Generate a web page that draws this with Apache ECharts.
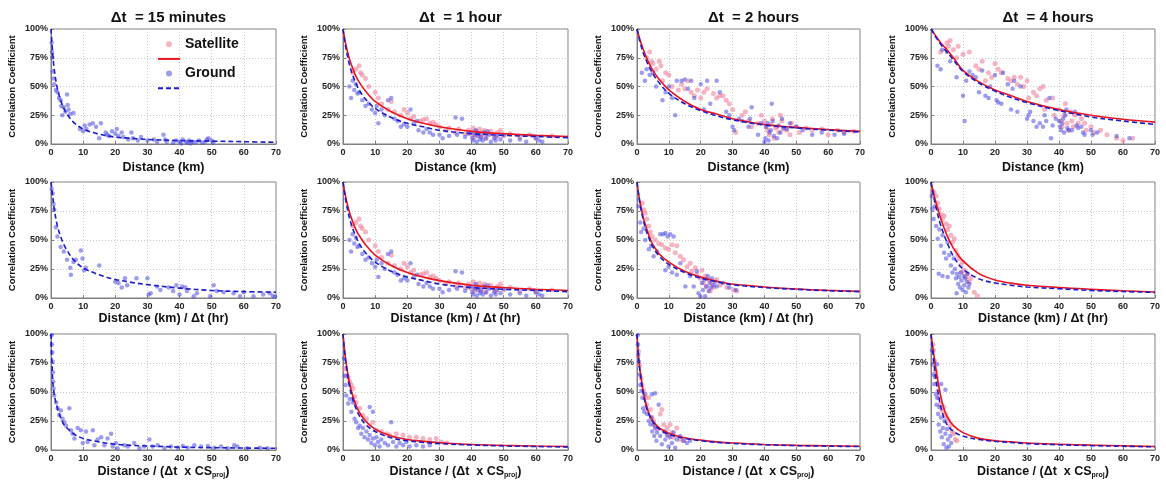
<!DOCTYPE html>
<html>
<head>
<meta charset="utf-8">
<script src="https://cdn.jsdelivr.net/npm/echarts@6/dist/echarts.min.js"></script>
<style>
  html, body { margin: 0; padding: 0; background: #fff; }
  #chart { width: 1166px; height: 484px; }
</style>
</head>
<body>
<div id="chart"></div>
<script>
// Column headings (time step) and x-axis titles (normalisation of distance)
const columnTitles = ['Δt  = 15 minutes', 'Δt  = 1 hour', 'Δt  = 2 hours', 'Δt  = 4 hours'];
const xTicks = [0, 10, 20, 30, 40, 50, 60, 70];
const yTicks = [0, 25, 50, 75, 100];

// x positions at which the fitted curves are tabulated
const fitX = [0, 0.5, 1, 2, 3, 4, 5, 7, 10, 15, 20, 25, 30, 40, 50, 60, 70];

// ---------- Row 1: correlation vs distance (km) ----------
const ground15Km = [[0.2,88],[0.3,80],[0.4,75],[0.5,63],[0.8,57],[1,52],[1.5,47],[2,45],[2.5,40],[3,38],[3.2,33],[3.5,25],[4,32],[4.5,28],[5,43],[5.2,34],[5.5,30],[6,26],[7,27],[9,13],[10,11],[10.5,16],[11,13],[12,17],[13,18],[14,15],[15,5],[15.5,18],[17,10],[17.5,8],[18,7],[19,11],[20,9],[20.5,13],[21,7],[22,10],[22.5,6],[24,4],[25,10],[25.5,5],[27,3],[28,6],[30,3],[32,4],[33,2],[35,8],[35.5,4],[36,2],[38,1],[39,3],[40,2],[40.5,0.5],[41,4],[42,2],[42.5,1],[43,3],[43.5,0.5],[44,2],[45,1.5],[46,3],[47,1],[48,2],[48.5,4],[49,5],[50,3],[50.5,1]];
const fitGround15Km = [100,80,65,48,38,31,26,19,13,8.5,6,5,4,3,2.5,2,1.5];

const sat1Km = [[3,62],[4,65],[5,68],[5.5,62],[6,60],[7,57],[8,50],[10,45],[11,40],[12,35],[14,30],[15,37],[16,28],[18,25],[19,30],[20,27],[21,22],[22,24],[24,20],[25,21],[26,22],[27,18],[28,19],[29,17],[30,15],[32,12],[33,14],[35,10],[36,13],[38,9],[39,12],[40,8],[40.5,14],[41,6],[41.5,11],[42,9],[42.5,13],[43,7],[43.5,10],[44,12],[44.5,5],[45,9],[46,11],[47,8],[47.5,6],[48,10],[49,12],[50,7],[52,9],[55,6],[58,8],[60,5],[65,7]];
const ground1Km = [[2,50],[2.5,40],[3,55],[3.5,47],[4,52],[4.5,44],[5,45],[6,38],[7,33],[8,35],[9,30],[10,27],[10.5,33],[11,18],[12,30],[13,25],[14,38],[15,40],[16,22],[17,20],[18,15],[19,17],[20,15],[21,30],[22,18],[23,20],[23.5,12],[25,10],[26,13],[27,10],[28,8],[30,8],[31,5],[33,7],[35,23],[35.5,8],[37,22],[38,6],[39,9],[40,10],[40.2,5],[40.5,3],[41,8],[41.3,12],[41.6,2],[42,7],[42.3,9],[42.6,4],[43,6],[43.5,3],[44,10],[44.5,5],[45,11],[45.5,8],[46,2],[47,5],[47.5,3],[48,7],[49,4],[50,8],[52,3],[55,4],[57,2],[60,5],[61,3],[62,2]];
const fitSat1Km = [100,92,85,74,66,59,54,46,37,28,22,18,15,11,9,7.5,6.5];
const fitGround1Km = [100,90,82,69,60,53,47,39,31,23,18,15,12,9,7.5,6.5,5.5];

const sat2Km = [[3,75],[4,80],[4.5,72],[5,70],[6,65],[7,72],[7.5,68],[8,55],[9,62],[10,60],[11,50],[13,47],[14,52],[15,48],[16,55],[17,45],[18,42],[19,47],[20,40],[21,45],[22,48],[24,44],[25,40],[26,42],[27,42],[28,38],[29,35],[30,30],[31,10],[33,25],[34,28],[35,20],[36,15],[38,18],[39,25],[40,20],[40.5,15],[41,12],[41.5,8],[42,17],[42.5,22],[43,5],[43.5,14],[44,15],[44.5,10],[45,25],[45.5,20],[46,13],[47,12],[48,8],[48.5,18],[50,15],[51,10],[53,14],[55,12],[58,13],[60,8],[63,12],[65,10],[68,11]];
const ground2Km = [[1.5,62],[2.5,55],[3,65],[4,60],[5,62],[6,50],[8,38],[9,45],[10,50],[11,40],[12,25],[12.5,55],[14,55],[15,56],[16,48],[17,55],[18,40],[20,52],[21,30],[22,55],[23,35],[25,55],[26,45],[28,28],[29,25],[30,15],[30.5,12],[32,22],[33,20],[35,15],[35.5,22],[36,32],[38,8],[39,18],[40,2],[40.3,5],[40.6,15],[41,18],[41.3,3],[41.6,10],[42,12],[42.3,35],[42.6,20],[43,7],[44,5],[44.5,16],[45,10],[45.5,22],[46,14],[47,13],[48,18],[50,15],[52,12],[55,8],[58,10],[62,8],[65,9]];
const fitSat2Km = [100,95,90,82,75,69,64,56,47,37,30,26,22,17,14.5,12.5,11];
const fitGround2Km = [100,94,88,79,72,66,61,53,44,35,29,24.5,21,16.5,14,12,10.5];

const sat4Km = [[3,80],[5,88],[5.5,85],[6,90],[7,82],[8,75],[8.5,85],[10,78],[12,80],[14,68],[15,65],[16,72],[17,55],[18,62],[19,58],[20,70],[21,65],[22,62],[24,57],[25,55],[26,58],[27,52],[28,58],[29,50],[30,55],[30.5,40],[32,45],[33,42],[34,48],[35,50],[35.5,30],[36,38],[38,40],[38.5,25],[40,30],[40.5,20],[41,15],[41.5,25],[42,35],[42.5,18],[43,12],[43.5,28],[44,20],[44.5,15],[45,25],[46,18],[47,22],[48,18],[48.5,12],[50,15],[51,10],[53,12],[55,8],[58,5],[60,3],[63,5]];
const ground4Km = [[2,68],[3,65],[3.5,82],[5,80],[6,72],[8,58],[10,42],[10.5,20],[11,55],[12,63],[13,60],[14,58],[15,45],[16,64],[17,42],[18,40],[18.5,50],[20,60],[20.5,38],[21,36],[22,35],[22.5,62],[24,52],[25,30],[25.5,48],[26,55],[27,28],[28,50],[30,22],[30.5,25],[31,28],[32,20],[33,15],[34,18],[35,15],[35.5,25],[36,20],[37,40],[37.5,5],[38,16],[39,22],[40,20],[40.3,15],[40.6,12],[41,18],[41.3,22],[41.6,10],[42,25],[42.3,30],[42.6,14],[43,12],[44,12],[45,28],[45.5,16],[46,14],[47,15],[47.5,10],[48,8],[50,12],[50.5,8],[52,10],[58,7],[62,5]];
const fitSat4Km = [100,98,96,92,88,85,82,75,64,54,47,42,37,30,25,21.5,19];
const fitGround4Km = [100,98,95,91,87,83,80,73,63,53,46,40.5,36,29,23.5,20,17];

// ---------- Row 2: correlation vs distance / Δt (km/hr) ----------
const ground15Rate = [[0.2,94],[0.5,90],[0.8,81],[1,76],[1.5,61],[2,53],[3,44],[4,40],[5,33],[6,26],[6.2,20],[7,31],[7.7,33],[9.3,41],[9.8,34],[10.3,24],[10.8,26],[15,28],[20,14],[21,13],[22,9],[23,17],[23.7,11],[26.6,17],[30,17],[30.4,3],[31,4],[33,10],[34,7],[36.6,9],[38,6],[39,11],[40,3],[40.8,10],[41.8,9],[42.3,6],[44.4,1.5],[45.4,4],[49.5,1.5],[50.6,11],[51.6,6],[53.7,5],[56.8,4],[58.8,1.5],[60,5],[63,1.5],[66,3],[68,4],[69,2],[69.7,1]];
const fitGround15Rate = [100,88,77,62,53,46,41,33,26,20,16,13.5,11.5,8.5,6.5,5.5,5];

const sat2Rate = [[1.6,82],[2.1,76],[2.6,73],[3.1,68],[3.7,62],[4.2,57],[4.7,53],[5.7,50],[6.8,47],[7.8,46],[8.9,43],[9.9,42],[11,46],[12,39],[12.5,45],[13.6,36],[14.6,33],[15.7,27],[16.7,30],[17.2,23],[18.3,26],[18.8,20],[19.9,17],[20.4,24],[20.9,13],[21.4,19],[21.9,10],[22.5,16],[23,6],[23.5,13],[24,9],[25,16],[26,11],[28.2,9],[30.3,7],[31.3,6]];
const ground2Rate = [[0.5,79],[1,65],[1.3,57],[2.1,60],[2.6,50],[3.7,42],[4.4,45],[5.2,36],[6.3,40],[7.3,55],[8.2,55],[8.9,56],[9.6,53],[10.4,55],[11.5,53],[8.9,24],[9.9,27],[11,22],[12.5,20],[13.6,30],[15.2,10],[16.7,19],[17.8,10],[18.8,23],[19.3,4],[19.9,1.5],[20.4,13],[20.7,7],[21.1,16],[21.4,1.5],[21.7,10],[22.2,19],[22.5,6],[22.8,13],[23.2,9],[23.5,17],[24,11],[24.6,14],[25,10],[27,13],[29,9],[31,7]];
const fitSat2Rate = [100,90,82,69,60,52,46,38,31,23,18,14.5,12,9.5,7.8,6.6,5.7];
const fitGround2Rate = [100,89,80,67,57,50,44,36,29,22,17,14,11.5,9,7.5,6.3,5.5];

const sat4Rate = [[0.5,92],[1,91],[1.6,88],[2.1,82],[2.6,77],[3.1,72],[3.6,68],[4.1,71],[4.7,64],[5.2,59],[5.7,62],[6.2,54],[6.7,48],[7.3,51],[7.8,41],[8.3,37],[8.8,34],[9.3,28],[9.5,22],[9.9,31],[10.4,24],[10.9,18],[11.4,21],[11.9,14],[12.4,17],[13.5,5],[14.5,2]];
const ground4Rate = [[0.2,88],[0.5,77],[0.8,68],[1.2,79],[1.6,62],[2.1,51],[2.4,21],[2.6,59],[3.1,45],[3.6,54],[3.6,19],[4.1,39],[4.7,34],[5.2,48],[5.2,18],[5.7,37],[6.2,28],[6.7,22],[7.1,34],[7.5,25],[7.8,17],[8,4],[8.1,21],[8.5,12],[8.8,18],[9.1,9],[9.3,22],[9.5,15],[9.9,7],[10.2,19],[10.4,11],[10.7,17],[10.9,5],[11.2,14],[11.4,21],[11.7,9],[12,12]];
const fitSat4Rate = [100,94,88,78,69,61,54,43,32,21,15.5,12.8,11,9,7.5,6.2,5.2];
const fitGround4Rate = [100,92,85,73,63,55,48,36,25,16.5,13,11,9.5,8,6.5,5.6,4.8];

// ---------- Row 3: correlation vs distance / (Δt × projected cloud speed) ----------
const ground15Cs = [[0.2,99],[0.3,91],[0.4,84],[0.5,76],[0.6,67],[0.7,59],[0.8,53],[1,47],[1.6,41],[2.1,36],[2.6,30],[3.1,34],[3.6,27],[4.1,24],[4.7,21],[5.7,36],[6.2,17],[6.7,14],[7.3,10],[8.3,19],[9.3,17],[9.9,6],[10.9,16],[11.4,7],[13,17],[13.5,4],[14.5,9],[15.6,11],[16.6,4],[17.6,10],[18.7,14],[19.2,3],[20.2,6],[20.7,1.5],[22.8,4],[23.9,3],[25.9,6],[27.5,1.5],[29,3],[30.6,9],[31.6,3],[33.2,4],[35.3,1.5],[37.3,3],[39.4,2],[41,3.4],[42.5,2],[44.6,4],[46.7,3],[48.8,3.4],[50.8,2],[52.9,3],[55,1.5],[57,4],[58,3],[61,1.5],[65,2],[67.4,1.5]];
const fitGround15Cs = [100,62,48,36,28,22,19,14,10,7,5,4,3.5,2.5,2,1.7,1.5];

const sat1Cs = [[0.5,70],[1,64],[1.6,63],[2.1,59],[2.6,56],[3.1,53],[3.6,46],[4.1,41],[5.2,36],[6.2,30],[7.3,27],[8.3,21],[9.3,24],[10.4,17],[11.9,16],[13.5,14],[14.5,13],[16.6,14],[18.7,13],[20.7,11],[22.8,11],[24.9,10],[27,9],[29,10],[30.6,7],[32.2,6]];
const ground1Cs = [[0.3,79],[0.5,64],[0.8,56],[1,47],[1.6,40],[2.1,44],[2.6,33],[3.1,41],[3.6,27],[4.1,24],[4.7,19],[5.2,21],[5.7,14],[6.2,19],[6.7,11],[7.3,16],[7.8,9],[8.3,13],[8.3,37],[8.8,6],[9.3,10],[9.3,33],[9.9,4],[10.4,11],[10.9,7],[11.4,3],[11.9,9],[13,6],[14,4],[15,24],[15.6,7],[16.6,3],[17.6,6],[18.7,4],[19.7,7],[20.7,3],[22.8,4],[24.9,3],[27,4]];
const fitSat1Cs = [100,86,75,58,47,39,33,25,18,12,9,7.5,6.3,4.8,4,3.4,3];
const fitGround1Cs = [100,84,72,55,44,36,30,22,16,10.5,8,6.5,5.5,4.3,3.5,3,2.6];

const sat2Cs = [[0.5,85],[0.8,73],[1.3,62],[1.6,56],[2.1,51],[2.6,45],[3.1,39],[3.7,45],[4.2,35],[4.7,28],[5.2,25],[5.7,21],[6.3,18],[7.3,31],[7.8,35],[8.4,22],[8.9,16],[9.4,19],[9.9,12],[10.4,22],[11,15],[11.5,11],[12.5,19],[13.6,9],[14.6,8]];
const ground2Cs = [[0.2,99],[0.3,91],[0.4,82],[0.6,76],[0.8,65],[1,56],[1.4,51],[1.7,45],[1.9,36],[2.3,33],[2.6,48],[3.1,31],[3.7,25],[4.2,22],[4.5,28],[4.7,48],[4.8,16],[5.2,22],[5.4,12],[5.7,19],[5.7,49],[6.1,8],[6.3,15],[6.8,39],[7.3,12],[7.8,5],[8.4,16],[8.9,9],[9.4,13],[9.9,3],[10.4,11],[11,6],[11.5,15],[12,2],[12.5,9],[13.6,12],[14.6,8],[15.7,6],[16.7,8]];
const fitSat2Cs = [100,80,68,50,38,30,25,19,14.5,10.5,8.5,7,6,4.8,4,3.6,3.2];
const fitGround2Cs = [100,79,66,48,36,29,24,18,13.5,10,8,6.6,5.7,4.5,3.8,3.3,3];

const sat4Cs = [[0.6,91],[0.8,86],[1.1,77],[1.4,68],[1.7,63],[1.9,57],[2.2,51],[2.4,45],[2.9,39],[3.4,34],[4,37],[4.5,31],[5,28],[5.5,25],[6,21],[6.6,16],[7.1,14],[7.6,9],[8.1,8]];
const ground4Cs = [[0.3,86],[0.5,74],[0.8,65],[1,57],[1.2,63],[1.5,48],[1.7,39],[1.9,45],[1.9,74],[2.2,31],[2.4,22],[2.6,37],[2.9,16],[3.1,28],[3.2,57],[3.4,11],[3.7,19],[4,5],[4.2,25],[4.5,14],[4.5,52],[4.8,2],[5,18],[5.3,9],[5.6,3],[6,12],[6.3,6]];
const fitSat4Cs = [100,90,80,62,47,36,29,21,15,10,8,7,6,5,4.2,3.6,3];
const fitGround4Cs = [100,86,73,53,38,28,22,16,12,9,7.5,6.5,5.5,4.5,3.8,3.2,2.8];

// ---------- panel table ----------
const panels = [
  { row: 0, col: 0, ground: ground15Km, groundFit: fitGround15Km },
  { row: 0, col: 1, sat: sat1Km, satFit: fitSat1Km, ground: ground1Km, groundFit: fitGround1Km },
  { row: 0, col: 2, sat: sat2Km, satFit: fitSat2Km, ground: ground2Km, groundFit: fitGround2Km },
  { row: 0, col: 3, sat: sat4Km, satFit: fitSat4Km, ground: ground4Km, groundFit: fitGround4Km },
  { row: 1, col: 0, ground: ground15Rate, groundFit: fitGround15Rate },
  // with Δt = 1 hr, distance / Δt equals the distance itself
  { row: 1, col: 1, sat: sat1Km, satFit: fitSat1Km, ground: ground1Km, groundFit: fitGround1Km },
  { row: 1, col: 2, sat: sat2Rate, satFit: fitSat2Rate, ground: ground2Rate, groundFit: fitGround2Rate },
  { row: 1, col: 3, sat: sat4Rate, satFit: fitSat4Rate, ground: ground4Rate, groundFit: fitGround4Rate },
  { row: 2, col: 0, ground: ground15Cs, groundFit: fitGround15Cs },
  { row: 2, col: 1, sat: sat1Cs, satFit: fitSat1Cs, ground: ground1Cs, groundFit: fitGround1Cs },
  { row: 2, col: 2, sat: sat2Cs, satFit: fitSat2Cs, ground: ground2Cs, groundFit: fitGround2Cs },
  { row: 2, col: 3, sat: sat4Cs, satFit: fitSat4Cs, ground: ground4Cs, groundFit: fitGround4Cs }
];

// ---------- layout ----------
const FONT = '"Liberation Sans", Arial, Helvetica, sans-serif';
const colLeft = [51, 343, 637, 931];
const colWidth = [225, 225, 223, 224];
const rowTop = [29, 182, 334];
const rowHeight = [115, 116, 116];
const xNames = [
  'Distance (km)',
  'Distance (km) / Δt (hr)',
  '{n|Distance / (Δt  x CS}{s|proj}{n|)}'
];
const xNameGap = [17, 14, 15];

const SAT_COLOR = '#f0829a';
const GROUND_COLOR = '#3c3ce0';
const SAT_LINE = '#e8141e';
const GROUND_LINE = '#1c1ccc';

const grids = [], xAxes = [], yAxes = [], series = [];

panels.forEach((p, i) => {
  grids.push({
    left: colLeft[p.col], top: rowTop[p.row],
    width: colWidth[p.col], height: rowHeight[p.row],
    show: true, borderColor: '#808080', borderWidth: 1, backgroundColor: '#fff'
  });
  xAxes.push({
    type: 'value', gridIndex: i, min: xTicks[0], max: xTicks[xTicks.length - 1], interval: 10,
    name: xNames[p.row], nameLocation: 'middle', nameGap: xNameGap[p.row],
    nameTextStyle: {
      fontFamily: FONT, fontSize: 12.5, fontWeight: 'bold', color: '#111',
      rich: {
        n: { fontFamily: FONT, fontSize: 12.5, fontWeight: 'bold', color: '#111' },
        s: { fontFamily: FONT, fontSize: 7, fontWeight: 'bold', color: '#111', padding: [7, 0, 0, 0] }
      }
    },
    axisLine: { show: true, onZero: false, lineStyle: { color: '#808080', width: 1 } },
    axisTick: { show: true, inside: true, length: 3, lineStyle: { color: '#808080' } },
    axisLabel: { fontFamily: FONT, fontSize: 9, fontWeight: 'bold', color: '#222', margin: 4 },
    splitLine: { show: true, lineStyle: { color: '#c8c8c8', type: [1, 2], width: 1 } }
  });
  yAxes.push({
    type: 'value', gridIndex: i, min: yTicks[0], max: yTicks[yTicks.length - 1], interval: 25,
    name: 'Correlation Coefficient', nameLocation: 'middle', nameGap: 34, nameRotate: 90,
    nameTextStyle: { fontFamily: FONT, fontSize: 9.5, fontWeight: 'bold', color: '#111' },
    axisLine: { show: true, onZero: false, lineStyle: { color: '#808080', width: 1 } },
    axisTick: { show: true, inside: true, length: 3, lineStyle: { color: '#808080' } },
    axisLabel: { fontFamily: FONT, fontSize: 9, fontWeight: 'bold', color: '#222', margin: 3, formatter: '{value}%' },
    splitLine: { show: true, lineStyle: { color: '#c8c8c8', type: [1, 2], width: 1 } }
  });

  if (p.sat) {
    series.push({
      name: 'Satellite', type: 'scatter', xAxisIndex: i, yAxisIndex: i, data: p.sat,
      symbol: 'circle', symbolSize: 5,
      itemStyle: { color: SAT_COLOR, opacity: 0.6 }
    });
  }
  series.push({
    name: 'Ground', type: 'scatter', xAxisIndex: i, yAxisIndex: i, data: p.ground,
    symbol: 'circle', symbolSize: 4.5,
    itemStyle: { color: GROUND_COLOR, opacity: 0.5 }
  });
  if (p.satFit) {
    series.push({
      name: 'Satellite fit', type: 'line', xAxisIndex: i, yAxisIndex: i,
      data: fitX.map((x, k) => [x, p.satFit[k]]),
      symbol: 'none', smooth: 0.35, z: 3,
      lineStyle: { color: SAT_LINE, width: 1.6 }, itemStyle: { color: SAT_LINE }
    });
  }
  series.push({
    name: 'Ground fit', type: 'line', xAxisIndex: i, yAxisIndex: i,
    data: fitX.map((x, k) => [x, p.groundFit[k]]),
    symbol: 'none', smooth: 0.35, z: 4,
    lineStyle: { color: GROUND_LINE, width: 1.6, type: [5, 3] }, itemStyle: { color: GROUND_LINE }
  });
});

const titles = columnTitles.map((t, c) => ({
  text: t,
  left: colLeft[c] + colWidth[c] / 2, top: 5, textAlign: 'center',
  textStyle: { fontFamily: FONT, fontSize: 15, fontWeight: 'bold', color: '#111' }
}));

// legend entries for the fitted curves show the line only
const hiddenMarker = { color: 'rgba(0,0,0,0)', borderColor: 'rgba(0,0,0,0)', borderWidth: 0 };

const chart = echarts.init(document.getElementById('chart'), null, { renderer: 'canvas' });
chart.setOption({
  animation: false,
  backgroundColor: '#fff',
  title: titles,
  legend: {
    orient: 'vertical', left: 152, top: 32,
    itemWidth: 22, itemHeight: 6, itemGap: 5,
    data: [
      { name: 'Satellite', icon: 'circle' },
      { name: 'Satellite fit', itemStyle: hiddenMarker },
      { name: 'Ground', icon: 'circle' },
      { name: 'Ground fit', itemStyle: hiddenMarker }
    ],
    formatter: name => (name.endsWith('fit') ? '' : name),
    textStyle: { fontFamily: FONT, fontSize: 14, fontWeight: 'bold', color: '#111', lineHeight: 14.5 }
  },
  grid: grids,
  xAxis: xAxes,
  yAxis: yAxes,
  series: series
});
</script>
</body>
</html>
